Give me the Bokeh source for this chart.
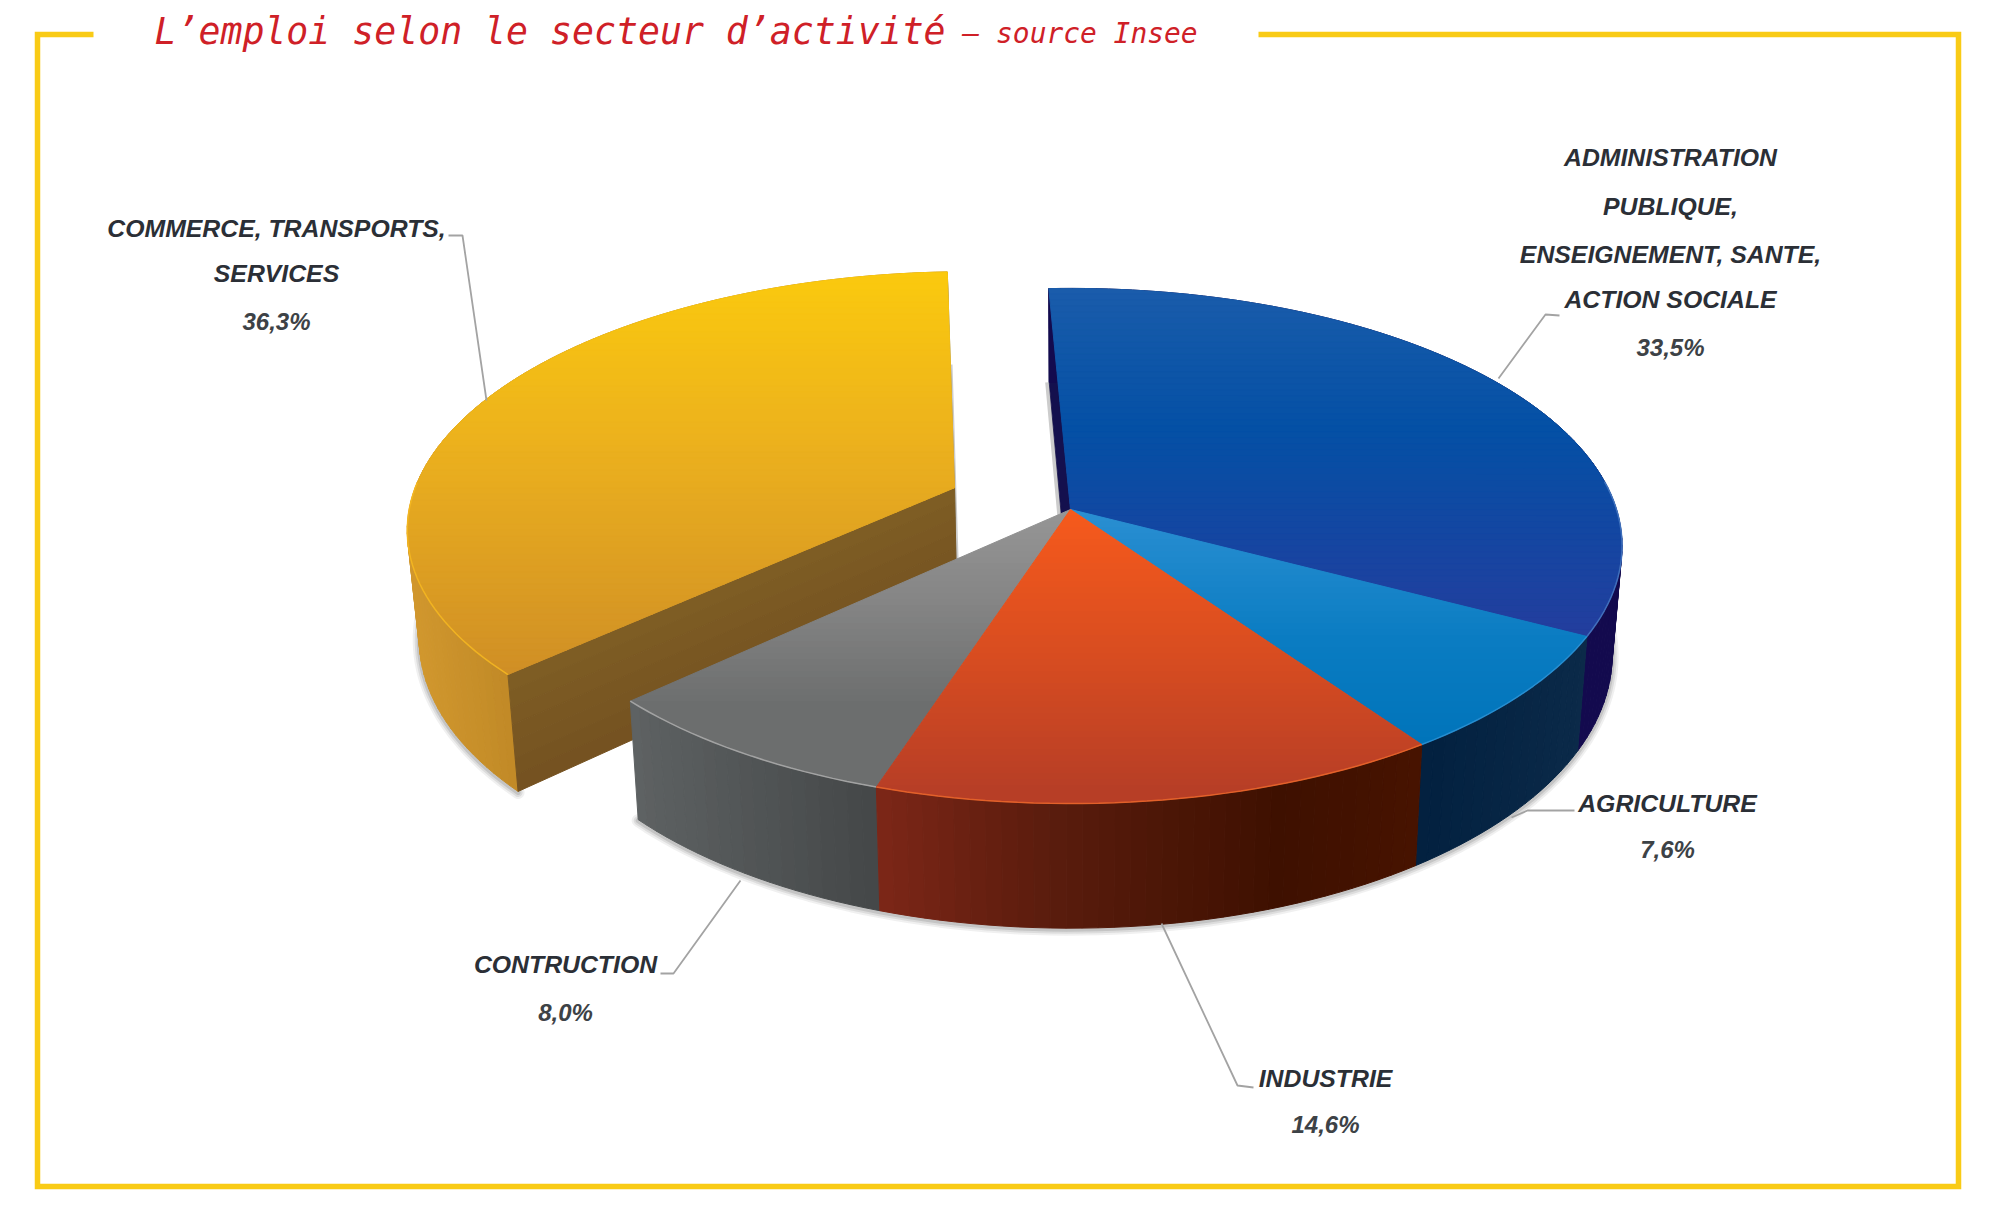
import math
import numpy as np
from bokeh.plotting import figure
from bokeh.models import Range1d
from bokeh.core.properties import value as fixed
from bokeh.embed import file_html
from bokeh.resources import INLINE

# ---- data ----
categories = ["ADMINISTRATION PUBLIQUE, ENSEIGNEMENT, SANTE, ACTION SOCIALE",
              "AGRICULTURE", "INDUSTRIE", "CONTRUCTION", "COMMERCE, TRANSPORTS, SERVICES"]
shares = [33.5, 7.6, 14.6, 8.0, 36.3]
explode = [0, 0, 0, 0, 0.232]
label_lines = [["ADMINISTRATION", "PUBLIQUE,", "ENSEIGNEMENT, SANTE,", "ACTION SOCIALE"],
               ["AGRICULTURE"], ["INDUSTRIE"], ["CONTRUCTION"],
               ["COMMERCE, TRANSPORTS,", "SERVICES"]]

# ---- styling / layout ----
top_stops = [
    [(288, "#1a5cab"), (430, "#0450a5"), (640, "#243d9e")],
    [(510, "#2a8fd2"), (640, "#0a7cc2"), (745, "#0074ba")],
    [(510, "#f65a1c"), (650, "#d94d20"), (790, "#b73e26")],
    [(510, "#969696"), (600, "#858585"), (705, "#6c6e6e")],
    [(270, "#fbca0e"), (450, "#ebb01e"), (680, "#cf8e26")],
]
wall_stops = [
    [(1050, "#130a4e"), (1620, "#130a4e")],
    [(1417, "#02203f"), (1590, "#0b2a49")],
    [(877, "#7c2617"), (1050, "#5a1c0d"), (1280, "#3e1000"), (1420, "#471300")],
    [(630, "#5e6263"), (875, "#444748")],
    [(405, "#d2982e"), (520, "#bf8826"), (960, "#bf8826")],
]
rim_colors = ["#4a7cc4", "#2f93d6", "#ef6a2c", "#b0b0b0", "#f8ba20"]
FLAT_WALL = ("#7e5d24", "#735020")
CX, CY, A, B, K = 1070.0, 509.0, 546.0, 252.4, 0.1416
H0, INWARD = 107.0, 0.982
START = 92.6


def top(u, v):
    w = 1 + K * v
    return CX + A * u / w, CY - B * v / w


def bottom(u, v):
    w = 1 + K * v
    x, y = top(u, v)
    return CX + (x - CX) * INWARD, y + H0 / w


def rgb(h):
    return [int(h[i:i + 2], 16) for i in (1, 3, 5)]


def ramp(stops, t):
    if t <= stops[0][0]:
        return stops[0][1]
    for (a, ca), (b, cb) in zip(stops, stops[1:]):
        if t <= b:
            f = (t - a) / (b - a)
            c = [round(p + (q - p) * f) for p, q in zip(rgb(ca), rgb(cb))]
            return "#%02x%02x%02x" % tuple(c)
    return stops[-1][1]


def clip(poly, ylim, keep_below):
    out = []
    for i in range(len(poly)):
        p, q = poly[i], poly[(i + 1) % len(poly)]
        pin = p[1] >= ylim if keep_below else p[1] <= ylim
        qin = q[1] >= ylim if keep_below else q[1] <= ylim
        if pin:
            out.append(p)
        if pin != qin:
            f = (ylim - p[1]) / (q[1] - p[1])
            out.append((p[0] + (q[0] - p[0]) * f, ylim))
    return out


p = figure(width=1976, height=1206, output_backend="svg", toolbar_location=None,
           x_range=Range1d(0, 1976), y_range=Range1d(1206, 0),
           min_border=0, outline_line_color=None, background_fill_color="white")
p.axis.visible = False
p.grid.visible = False


def fill(polys, colors):
    if polys:
        p.patches([[q[0] for q in s] for s in polys], [[q[1] for q in s] for s in polys],
                  fill_color=colors, line_color=colors, line_width=1)


# slices
angles = []
a = START
for s in shares:
    angles.append((a, a - s * 3.6))
    a -= s * 3.6


def ring(i, n_per_deg=0.7):
    a0, a1 = angles[i]
    n = max(4, int(abs(a1 - a0) * n_per_deg))
    th = np.radians(np.linspace(a0, a1, n + 1))
    return np.cos(th), np.sin(th)


def offset(i):
    mid = math.radians(sum(angles[i]) / 2)
    return explode[i] * math.cos(mid), explode[i] * math.sin(mid)


def shadow(pts):
    for w, al in ((13, 0.07), (9, 0.10), (5, 0.14)):
        p.line([q[0] for q in pts], [q[1] + 1 for q in pts], line_color="#303030",
               line_alpha=al, line_width=w, line_cap="round")


def walls(i):
    cu, sv = ring(i)
    ox, oy = offset(i)
    polys, cols = [], []
    order = np.argsort(-sv[:-1])
    for j in order:
        a1, a2 = (cu[j] + ox, sv[j] + oy), (cu[j + 1] + ox, sv[j + 1] + oy)
        quad = [top(*a1), top(*a2), bottom(*a2), bottom(*a1)]
        polys.append(quad)
        cols.append(ramp(wall_stops[i], (quad[0][0] + quad[1][0]) / 2))
    fill(polys, cols)


def surface(i):
    cu, sv = ring(i)
    ox, oy = offset(i)
    poly = [top(ox, oy)] + [top(u + ox, v + oy) for u, v in zip(cu, sv)]
    ys = [q[1] for q in poly]
    y0 = min(ys)
    polys, cols = [], []
    while y0 < max(ys):
        band = clip(clip(poly, y0, True), y0 + 6, False)
        if len(band) >= 3:
            polys.append(band)
            cols.append(ramp(top_stops[i], y0 + 3))
        y0 += 6
    fill(polys, cols)
    rim = [top(u + ox, v + oy) for u, v in zip(cu, sv) if v + oy < 0.12]
    if len(rim) > 1:
        p.line([q[0] for q in rim], [q[1] for q in rim], line_color=rim_colors[i],
               line_width=1.5, line_alpha=0.8)


# exploded slice (behind everything)
i = 4
cu, sv = ring(i)
ox, oy = offset(i)
front = [bottom(u + ox, v + oy) for u, v in zip(cu, sv) if u + ox < -0.6 and v + oy < 0.25]
corner_u, corner_v = math.cos(math.radians(angles[i][0])) + ox, math.sin(math.radians(angles[i][0])) + oy
shadow(front + [bottom(corner_u, corner_v)])
# face on the far side of the exploded slice
far_u, far_v = math.cos(math.radians(angles[i][1])) + ox, math.sin(math.radians(angles[i][1])) + oy
fill([[top(far_u, far_v), top(ox, oy), bottom(ox, oy), bottom(far_u, far_v)]], ["#8f8f8f"])
p.line([bottom(far_u, far_v)[0] + 1, bottom(ox, oy)[0] + 1], [bottom(far_u, far_v)[1], bottom(ox, oy)[1]],
       line_color="#808080", line_width=4, line_alpha=0.4)
walls(i)
# long flat face towards the rest of the pie
quad = [np.array(q) for q in (top(ox, oy), top(corner_u, corner_v), bottom(corner_u, corner_v), bottom(ox, oy))]
polys, cols = [], []
fr = np.linspace(0, 1, 8)
for f0, f1 in zip(fr[:-1], fr[1:]):
    polys.append([tuple(quad[0] + f0 * (quad[3] - quad[0])),
                  tuple(quad[1] + f0 * (quad[2] - quad[1])),
                  tuple(quad[1] + f1 * (quad[2] - quad[1])),
                  tuple(quad[0] + f1 * (quad[3] - quad[0]))])
    cols.append(ramp([(0, FLAT_WALL[0]), (1, FLAT_WALL[1])], f0))
fill(polys, cols)
surface(i)

# main pie
rim_pts = []
for j in [3, 2, 1, 0]:
    cu, sv = ring(j)
    pts = [bottom(u, v) for u, v in zip(cu[::-1], sv[::-1]) if v < 0.1]
    rim_pts += pts
shadow(rim_pts)
su, sv0 = math.cos(math.radians(START)), math.sin(math.radians(START))
fill([[top(su, sv0), top(0, 0), bottom(0, 0), bottom(su, sv0)]], ["#14104e"])
p.line([bottom(su, sv0)[0] - 2, bottom(0, 0)[0] - 2], [bottom(su, sv0)[1], bottom(0, 0)[1]],
       line_color="#808080", line_width=4, line_alpha=0.4)
for j in [0, 1, 3, 2]:
    walls(j)
for j in [0, 1, 3, 2]:
    surface(j)

# leader lines
leaders = [
    ([1498, 1545, 1559], [378, 314, 315]),
    ([1511, 1527, 1574], [817, 810, 810]),
    ([1161, 1237, 1253], [923, 1085, 1087]),
    ([740, 673, 660], [880, 973, 973]),
    ([486, 462, 448], [400, 235, 235]),
]
for lx, ly in leaders:
    p.line(lx, ly, line_color="#a3a3a3", line_width=1.8)

# labels
label_x = [1670, 1667, 1325, 565, 276]
label_y = [[157, 206, 254, 299], [803], [1078], [964], [228, 273]]
pct_y = [347, 849, 1124, 1012, 321]
tx, ty, tt = [], [], []
for k, lines in enumerate(label_lines):
    for line, yy in zip(lines, label_y[k]):
        tx.append(label_x[k]); ty.append(yy); tt.append(line)
p.text(tx, ty, text=tt, text_font=fixed("Liberation Sans"), text_font_style="bold italic",
       text_font_size="24.8px", text_color="#2b2f36", text_align="center", text_baseline="middle")
p.text(label_x, pct_y, text=[f"{s:.1f}".replace(".", ",") + "%" for s in shares],
       text_font=fixed("Liberation Sans"), text_font_style="bold italic",
       text_font_size="24px", text_color="#3d4246", text_align="center", text_baseline="middle")

# frame
FRAME = "#f9cb16"
p.line([93, 37, 37, 1958, 1958, 1258], [34, 34, 1186, 1186, 34, 34], line_color=FRAME,
       line_width=5.5, line_join="miter")

# title
p.text([154], [31], text=["L\u2019emploi selon le secteur d\u2019activit\u00e9"],
       text_font=fixed("DejaVu Sans Mono"), text_font_style="italic", text_font_size="36.5px",
       text_color="#cf2027", text_baseline="alphabetic")
p.text([962], [33], text=["\u2013 source Insee"],
       text_font=fixed("DejaVu Sans Mono"), text_font_style="italic", text_font_size="27.9px",
       text_color="#cf2027", text_baseline="alphabetic")

open("out.html", "w").write(file_html(p, INLINE))
